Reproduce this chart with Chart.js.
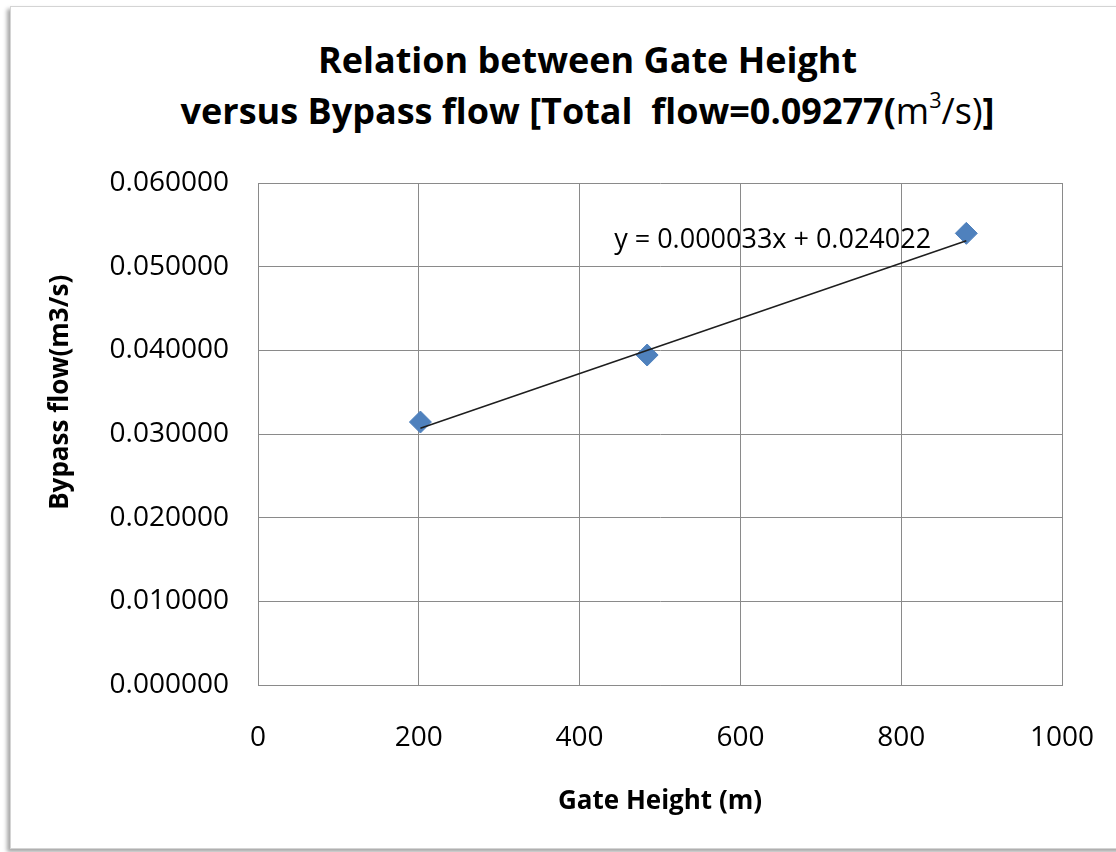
<!DOCTYPE html>
<html>
<head>
<meta charset="utf-8">
<title>Gate Height vs Bypass flow</title>
<script src="https://cdn.jsdelivr.net/npm/chart.js@4.4.0/dist/chart.umd.min.js"></script>
<style>
    html, body { margin: 0; padding: 0; background: #fff; overflow: hidden; }
    #frame {
        position: absolute; left: 10px; top: 6px; width: 1200px; height: 841px;
        border: 1px solid #d4d4d4; background: #fff;
        box-shadow: -3px 3px 4px rgba(0, 0, 0, 0.35);
    }
    #title {
        position: absolute; left: 60px; width: 1055px; top: 34px;
        text-align: center; font-family: "Open Sans", sans-serif; font-weight: bold;
        font-size: 36px; line-height: 51px; color: #000;
    }
    #title .thin { font-weight: normal; }
    #title .sup { font-size: 0.6em; position: relative; top: -0.75em; }
    #chartCanvas { position: absolute; left: 0; top: 0; }
</style>
</head>
<body>
<div id="frame"></div>
<div id="title">Relation between Gate Height<br>versus Bypass flow [Total&nbsp; flow=0.09277(<span class="thin">m<span class="sup">3</span>/s)</span>]</div>
<canvas id="chartCanvas" width="1116" height="852"></canvas>

<script>
// measured gate heights and bypass flows
const gateHeight = [202, 484, 881];
const bypassFlow = [0.03143, 0.03944, 0.05398];

// linear trendline as reported: y = slope * x + intercept
const trendSlope = 0.000033;
const trendIntercept = 0.024022;

// axis ranges / tick steps
const xTicks = [0, 200, 400, 600, 800, 1000];
const yTicks = [0, 0.01, 0.02, 0.03, 0.04, 0.05, 0.06];

// where the equation text sits (data units)
const equationAnchor = { x: 443, y: 0.0532 };

const gridColor = '#8a8a8a';
const tickFont = { family: 'Open Sans', size: 28 };

const points = gateHeight.map((g, i) => ({ x: g, y: bypassFlow[i] }));
const trendEnds = [gateHeight[0], gateHeight[gateHeight.length - 1]];
const trendPoints = trendEnds.map(g => ({ x: g, y: trendSlope * g + trendIntercept }));
const equationText = `y = ${trendSlope.toFixed(6)}x + ${trendIntercept.toFixed(6)}`;

// equation label plus the rotated y axis title
const extraText = {
    id: 'extraText',
    afterDatasetsDraw(chart) {
        const { ctx, scales: { x, y } } = chart;
        ctx.save();
        ctx.font = '27px "Open Sans"';
        ctx.fillStyle = '#000';
        ctx.textAlign = 'left';
        ctx.textBaseline = 'middle';
        ctx.fillText(equationText, x.getPixelForValue(equationAnchor.x), y.getPixelForValue(equationAnchor.y));
        ctx.restore();
    },
    afterDraw(chart) {
        const { ctx, chartArea } = chart;
        ctx.save();
        ctx.translate(61, chartArea.top + (chartArea.bottom - chartArea.top) * 0.417);
        ctx.rotate(-Math.PI / 2);
        ctx.font = 'bold 26px "Open Sans"';
        ctx.fillStyle = '#000';
        ctx.textAlign = 'center';
        ctx.textBaseline = 'middle';
        ctx.fillText('Bypass flow(m3/s)', 0, 0);
        ctx.restore();
    }
};

const ctx = document.getElementById('chartCanvas').getContext('2d');
new Chart(ctx, {
    type: 'scatter',
    data: {
        datasets: [
            {
                label: 'Trendline',
                data: trendPoints,
                type: 'line',
                showLine: true,
                borderColor: '#1e1e1e',
                borderWidth: 1.5,
                pointRadius: 0,
                fill: false,
                order: 0
            },
            {
                label: 'Bypass flow',
                data: points,
                pointStyle: 'rectRot',
                pointRadius: 11,
                pointHoverRadius: 11,
                backgroundColor: '#4f81bd',
                borderColor: '#4f81bd',
                borderWidth: 1,
                order: 1
            }
        ]
    },
    options: {
        responsive: false,
        animation: false,
        layout: { padding: { top: 183, right: 54, left: 0, bottom: 0 } },
        plugins: {
            legend: { display: false },
            tooltip: { enabled: false }
        },
        scales: {
            x: {
                type: 'linear',
                min: xTicks[0],
                max: xTicks[xTicks.length - 1],
                ticks: {
                    stepSize: xTicks[1] - xTicks[0],
                    font: tickFont,
                    color: '#000',
                    padding: 36,
                    callback: value => String(value)
                },
                grid: { color: gridColor, lineWidth: 1, drawTicks: false },
                border: { color: gridColor },
                title: {
                    display: true,
                    text: 'Gate Height (m)',
                    color: '#000',
                    font: { family: 'Open Sans', size: 26, weight: 'bold' },
                    padding: { top: 0, bottom: 35 }
                },
                afterFit: scale => {
                    scale.height = 167;
                    scale.paddingLeft = 0;
                    scale.paddingRight = 0;
                }
            },
            y: {
                type: 'linear',
                min: yTicks[0],
                max: yTicks[yTicks.length - 1],
                ticks: {
                    stepSize: yTicks[1] - yTicks[0],
                    font: tickFont,
                    color: '#000',
                    padding: 29,
                    callback: value => value.toFixed(6)
                },
                grid: { color: gridColor, lineWidth: 1, drawTicks: false },
                border: { color: gridColor },
                afterFit: scale => {
                    scale.width = 258;
                    scale.paddingTop = 0;
                    scale.paddingBottom = 0;
                }
            }
        }
    },
    plugins: [extraText]
});
</script>
</body>
</html>
